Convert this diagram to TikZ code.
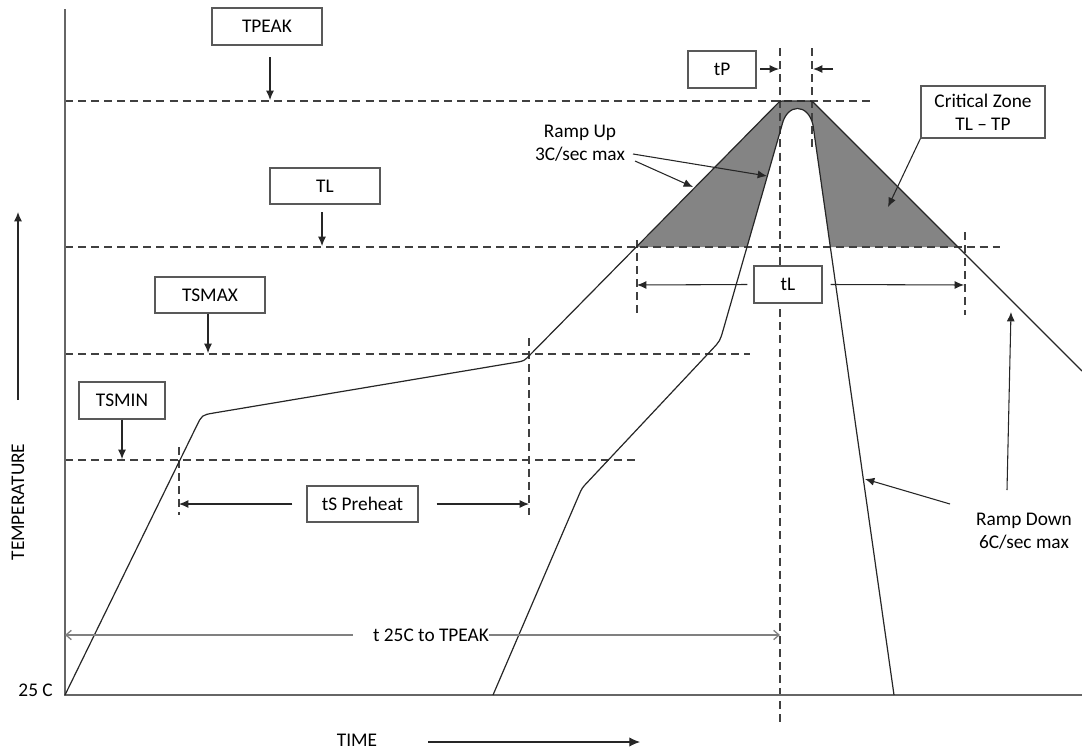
\documentclass[tikz,border=0pt]{standalone}
\usepackage{fontspec}
\setmainfont{Carlito}
\usetikzlibrary{arrows.meta}
\begin{document}
\begin{tikzpicture}[x=0.75pt,y=-0.75pt,
  font=\fontsize{14.5}{17.5}\selectfont,
  box/.style={draw=black!65, line width=0.9pt, fill=white, inner sep=0pt, align=center, text=black},
  sz/.style 2 args={minimum width=#1*0.75pt, minimum height=#2*0.75pt},
  dline/.style={black!75, line width=0.8pt, dash pattern=on 6pt off 3.8pt},
  arr/.style={-{Latex[length=7pt,width=6pt]}, black!85, line width=0.8pt},
  barb/.style={-{Straight Barb[length=4pt,width=7pt]}, black!50, line width=1pt},
  curve/.style={black!85, line width=0.9pt},
  axis/.style={black!60, line width=1.3pt},
  lbl/.style={inner sep=0pt, align=center, text=black}]
\useasboundingbox (0,0) rectangle (1082,750);

% shaded critical zone
\fill[fill={rgb,255:red,132;green,132;blue,132}]
  (637,247) -- (776.5,104.6) .. controls (780,101) .. (785,101) -- (807,101)
  .. controls (812,101) .. (815.5,104.5) -- (958,247) -- (830.3,247) -- (813,125)
  .. controls (808,103) and (787,103) .. (782,125) -- (747,247) -- cycle;

% coordinates
\coordinate (O) at (65,695);
\coordinate (Ytop) at (65,9);
\coordinate (Xend) at (1082,695);
\coordinate (pk0) at (65,101);  \coordinate (pk1) at (875,101);
\coordinate (tl0) at (65,247);  \coordinate (tl1) at (1000,247);
\coordinate (sx0) at (65,354);  \coordinate (sx1) at (750,354);
\coordinate (sn0) at (65,460);  \coordinate (sn1) at (637,460);
\coordinate (v1a) at (780,48);  \coordinate (v1b) at (780,722);
\coordinate (v2a) at (812,48);  \coordinate (v2b) at (812,150);
\coordinate (v3a) at (637,240); \coordinate (v3b) at (637,315);
\coordinate (v4a) at (965,232); \coordinate (v4b) at (965,315);
\coordinate (v5a) at (179,447); \coordinate (v5b) at (179,515);
\coordinate (v6a) at (529,338); \coordinate (v6b) at (529,515);

% dashed guides
\draw[dline] (pk0) -- (pk1);
\draw[dline] (tl0) -- (tl1);
\draw[dline] (sx0) -- (sx1);
\draw[dline] (sn0) -- (sn1);
\draw[dline] (v1a) -- (v1b);
\draw[dline] (v2a) -- (v2b);
\draw[dline] (v3a) -- (v3b);
\draw[dline] (v4a) -- (v4b);
\draw[dline] (v5a) -- (v5b);
\draw[dline] (v6a) -- (v6b);

% axes
\draw[axis] (Ytop) -- (O) -- (Xend);

% profile 1 (outer)
\draw[curve] (O) -- (196.7,425.8) .. controls (202,415) .. (213.8,413)
  -- (516.1,362.3) .. controls (524,361) .. (529.6,355.3)
  -- (776.5,104.6) .. controls (780,101) .. (785,101) -- (807,101)
  .. controls (812,101) .. (815.5,104.5) -- (1082,371);

% profile 2 (inner)
\draw[curve] (493,695) -- (578.8,495.4) .. controls (582,488) .. (587.5,482.2)
  -- (711.8,349.7) .. controls (720,341) .. (723.3,329.5)
  -- (782,125) .. controls (787,103) and (808,103) .. (813,125) -- (894,695);

% label boxes
\node[box, sz={110}{37}] (tpeak) at (267,26.5) {TPEAK};
\node[box, sz={110}{36}] (tlb) at (325,186) {TL};
\node[box, sz={110}{36}] (tsmax) at (210,295) {TSMAX};
\node[box, sz={86}{37}] (tsmin) at (122,400.5) {TSMIN};
\node[box, sz={68}{37}] (tp) at (722,69.5) {tP};
\node[box, sz={124}{52}] (crit) at (983,112) {Critical Zone\\TL -- TP};
\node[box, sz={68}{37}] (tlbox) at (788,284.5) {tL};
\node[box, sz={111}{36}] (ts) at (362.5,504) {tS Preheat};

% arrows from labels
\coordinate (tpeakA) at (270,57);  \coordinate (tpeakB) at (270,100);
\coordinate (tlA) at (322,212);    \coordinate (tlB) at (322,246);
\coordinate (tsmaxB) at (208,353);
\coordinate (tsminB) at (122,459);
\draw[arr] (tpeakA) -- (tpeakB);
\draw[arr] (tlA) -- (tlB);
\draw[arr] (tsmax.south -| tsmaxB) -- (tsmaxB);
\draw[arr] (tsmin.south) -- (tsminB);

\coordinate (tpA) at (760,69);  \coordinate (tpB) at (779,69);
\coordinate (tpC) at (833,69);  \coordinate (tpD) at (813,69);
\draw[arr] (tpA) -- (tpB);
\draw[arr] (tpC) -- (tpD);

\coordinate (critB) at (888,207);
\draw[arr] (crit.south west) -- (critB);

\coordinate (tlL) at (637,285); \coordinate (tlR) at (964,285);
\draw[arr] ([xshift=-4.5pt]tlbox.west) -- (tlL);
\draw[arr] ([xshift=6pt]tlbox.east) -- (tlR);

\coordinate (tsL) at (179,504); \coordinate (tsR) at (529,504);
\draw[arr] ([xshift=-10.5pt]ts.west) -- (tsL);
\draw[arr] ([xshift=13.5pt]ts.east) -- (tsR);

% ramp up
\node[lbl] (rampup) at (580,143.5) {Ramp Up\\3C/sec max};
\coordinate (ru1A) at (633,154); \coordinate (ru1B) at (767,176);
\coordinate (ru2A) at (635,161); \coordinate (ru2B) at (693,187);
\draw[arr] (ru1A) -- (ru1B);
\draw[arr] (ru2A) -- (ru2B);

% ramp down
\node[lbl] (rampdn) at (1024,531) {Ramp Down\\6C/sec max};
\coordinate (rd1A) at (950,504);  \coordinate (rd1B) at (865,479);
\coordinate (rd2A) at (1007,490); \coordinate (rd2B) at (1011,312);
\draw[arr] (rd1A) -- (rd1B);
\draw[arr] (rd2A) -- (rd2B);

% t 25C to TPEAK
\node[lbl] (t25) at (431,635) {t 25C to TPEAK};
\coordinate (t25a) at (65,635); \coordinate (t25b) at (780,635);
\draw[barb] ([xshift=-15pt]t25.west) -- (t25a);
\draw[barb] (t25.east) -- (t25b);

% axis labels
\node[lbl, anchor=east] (c25) at (53,690) {25 C};
\node[lbl] (time) at (357,740) {TIME};
\coordinate (timeA) at (428,742); \coordinate (timeB) at (640,742);
\draw[arr, -{Latex[length=8pt,width=7pt]}] (timeA) -- (timeB);
\node[lbl, rotate=90] (temp) at (18,502) {TEMPERATURE};
\coordinate (tempA) at (18,400); \coordinate (tempB) at (18,212);
\draw[arr] (tempA) -- (tempB);
\end{tikzpicture}
\end{document}
